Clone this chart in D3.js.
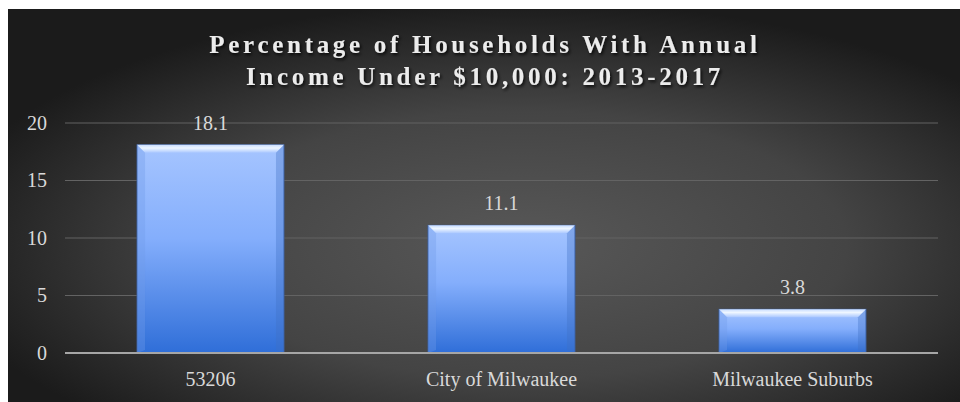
<!DOCTYPE html>
<html>
<head>
<meta charset="utf-8">
<script src="https://cdn.jsdelivr.net/npm/d3@7"></script>
<style>
  body { margin: 0; background: #fff; }
  svg { display: block; }
</style>
</head>
<body>
<div id="chart"></div>
<script>
var categories = ["53206", "City of Milwaukee", "Milwaukee Suburbs"];
var values = [18.1, 11.1, 3.8];
var yTicks = [0, 5, 10, 15, 20];
var titleLines = ["Percentage of Households With Annual", "Income Under $10,000: 2013-2017"];

var w = 960,
	h = 402,
	margin = {top: 123, right: 22, bottom: 49, left: 65};

var svg = d3.select("#chart")
	.append("svg")
	.attr("width", w)
	.attr("height", h);

var defs = svg.append("defs");

// background glow
var bg = defs.append("radialGradient")
	.attr("id", "bg")
	.attr("cx", "54%").attr("cy", "60%").attr("r", "62%");
bg.append("stop").attr("offset", "0%").attr("stop-color", "#585858");
bg.append("stop").attr("offset", "55%").attr("stop-color", "#444444");
bg.append("stop").attr("offset", "100%").attr("stop-color", "#1b1b1b");

var barGrad = defs.append("linearGradient")
	.attr("id", "barGrad")
	.attr("x1", 0).attr("y1", 0).attr("x2", 0).attr("y2", 1);
barGrad.append("stop").attr("offset", "0%").attr("stop-color", "#a6c5ff");
barGrad.append("stop").attr("offset", "45%").attr("stop-color", "#84aefc");
barGrad.append("stop").attr("offset", "100%").attr("stop-color", "#2f6ed8");

var bevelGrad = defs.append("linearGradient")
	.attr("id", "bevelGrad")
	.attr("x1", 0).attr("y1", 0).attr("x2", 0).attr("y2", 1);
bevelGrad.append("stop").attr("offset", "0%").attr("stop-color", "#c9ddff");
bevelGrad.append("stop").attr("offset", "40%").attr("stop-color", "#eef6ff");
bevelGrad.append("stop").attr("offset", "100%").attr("stop-color", "#a9c7ff");

var shadow = defs.append("filter")
	.attr("id", "shadow")
	.attr("x", "-10%").attr("y", "-30%").attr("width", "120%").attr("height", "160%");
shadow.append("feDropShadow")
	.attr("dx", 1.5).attr("dy", 2)
	.attr("stdDeviation", 1.5)
	.attr("flood-color", "#000")
	.attr("flood-opacity", 0.8);

svg.append("rect")
	.attr("x", 8).attr("y", 9)
	.attr("width", w - 8).attr("height", h - 9)
	.attr("fill", "url(#bg)");

var x = d3.scaleBand()
	.domain(categories)
	.range([margin.left, w - margin.right])
	.paddingInner(0.495)
	.paddingOuter(0.2475);

var y = d3.scaleLinear()
	.domain([0, 20])
	.range([h - margin.bottom, margin.top]);

// gridlines
svg.append("g")
	.selectAll("line")
	.data(yTicks.filter(function(d) { return d > 0; }))
	.enter()
	.append("line")
	.attr("x1", margin.left)
	.attr("x2", w - margin.right)
	.attr("y1", function(d) { return y(d); })
	.attr("y2", function(d) { return y(d); })
	.attr("stroke", "#636363")
	.attr("stroke-width", 1);

// y axis labels
var yAxis = svg.append("g")
	.attr("transform", "translate(" + (margin.left - 18) + ",0)")
	.call(d3.axisLeft(y).tickValues(yTicks).tickSize(0).tickPadding(0));
yAxis.select(".domain").remove();
yAxis.selectAll("text")
	.attr("font-family", "Liberation Serif, Times New Roman, serif")
	.attr("font-size", "20px")
	.attr("fill", "#d9d9d9");

// bars
var bar = svg.selectAll(".bar")
	.data(values)
	.enter()
	.append("g")
	.attr("class", "bar");

bar.append("rect")
	.attr("x", function(d, i) { return x(categories[i]); })
	.attr("y", function(d) { return y(d); })
	.attr("width", x.bandwidth())
	.attr("height", function(d) { return y(0) - y(d); })
	.attr("fill", "url(#barGrad)")
	.attr("stroke", "#3d5f9e")
	.attr("stroke-width", 1);

var bv = 8;
// top bevel
bar.append("path")
	.attr("d", function(d, i) {
		var x0 = x(categories[i]), x1 = x0 + x.bandwidth(), y0 = y(d);
		return "M" + x0 + "," + y0 + "L" + x1 + "," + y0 + "L" + (x1 - bv) + "," + (y0 + bv) +
			"L" + (x0 + bv) + "," + (y0 + bv) + "Z";
	})
	.attr("fill", "url(#bevelGrad)");
// side bevels
bar.append("path")
	.attr("d", function(d, i) {
		var x0 = x(categories[i]), y0 = y(d), y1 = y(0);
		return "M" + x0 + "," + y0 + "L" + (x0 + bv) + "," + (y0 + bv) + "L" + (x0 + bv) + "," + (y1 - 3) +
			"L" + x0 + "," + y1 + "Z";
	})
	.attr("fill", "#6f9ae8")
	.attr("opacity", 0.35);
bar.append("path")
	.attr("d", function(d, i) {
		var x1 = x(categories[i]) + x.bandwidth(), y0 = y(d), y1 = y(0);
		return "M" + x1 + "," + y0 + "L" + (x1 - bv) + "," + (y0 + bv) + "L" + (x1 - bv) + "," + (y1 - 3) +
			"L" + x1 + "," + y1 + "Z";
	})
	.attr("fill", "#3f6fc4")
	.attr("opacity", 0.35);

// value labels
bar.append("text")
	.attr("x", function(d, i) { return x(categories[i]) + x.bandwidth() / 2; })
	.attr("y", function(d) { return y(d) - 15; })
	.attr("text-anchor", "middle")
	.attr("font-family", "Liberation Serif, Times New Roman, serif")
	.attr("font-size", "20px")
	.attr("fill", "#d9d9d9")
	.text(function(d) { return d; });

// zero axis
svg.append("line")
	.attr("x1", margin.left)
	.attr("x2", w - margin.right)
	.attr("y1", y(0))
	.attr("y2", y(0))
	.attr("stroke", "#a6a6a6")
	.attr("stroke-width", 2);

// category labels
svg.append("g")
	.selectAll("text")
	.data(categories)
	.enter()
	.append("text")
	.attr("x", function(d) { return x(d) + x.bandwidth() / 2; })
	.attr("y", y(0) + 33)
	.attr("text-anchor", "middle")
	.attr("font-family", "Liberation Serif, Times New Roman, serif")
	.attr("font-size", "20px")
	.attr("fill", "#d9d9d9")
	.text(function(d) { return d; });

// title
svg.append("text")
	.attr("x", 485)
	.attr("y", 53)
	.attr("text-anchor", "middle")
	.attr("font-family", "Liberation Serif, Times New Roman, serif")
	.attr("font-weight", "bold")
	.attr("font-size", "25px")
	.attr("letter-spacing", "3.7px")
	.attr("fill", "#ececec")
	.attr("filter", "url(#shadow)")
	.selectAll("tspan")
	.data(titleLines)
	.enter()
	.append("tspan")
	.attr("x", 485)
	.attr("dy", function(d, i) { return i === 0 ? 0 : 32; })
	.text(function(d) { return d; });
</script>
</body>
</html>
